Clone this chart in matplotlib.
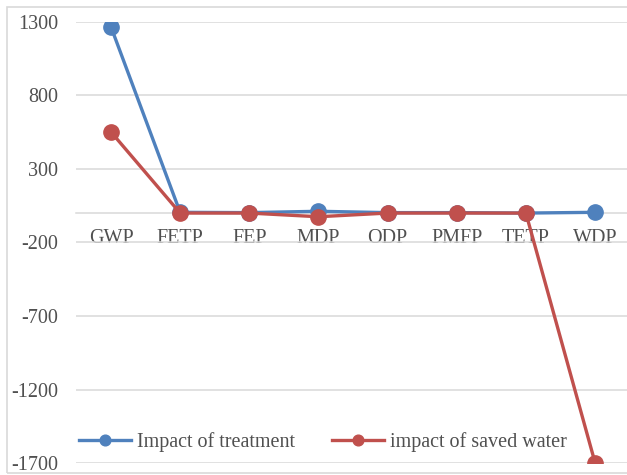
import matplotlib.pyplot as plt
from matplotlib.patches import Rectangle

categories = ['GWP', 'FETP', 'FEP', 'MDP', 'ODP', 'PMFP', 'TETP', 'WDP']
treatment = [1265, 5, 3, 12, 3, 3, 0, 5]
saved_water = [551, 0, 0, -25, 0, 0, 0, -1695]
y_ticks = [1300, 800, 300, -200, -700, -1200, -1700]

plt.rcParams['font.family'] = ['Liberation Serif', 'DejaVu Serif']
plt.rcParams['axes.unicode_minus'] = False

fig = plt.figure(figsize=(6.27, 4.75), dpi=100)
ax = fig.add_axes([76.4 / 627, 1 - 463.3 / 475, (629.6 - 76.4) / 627, (463.3 - 21.7) / 475])

# frame around the whole chart
fig.patches.append(Rectangle((7 / 627, 2 / 475), 1.0, 466 / 475, transform=fig.transFigure,
                             fill=False, edgecolor='#D9D9D9', linewidth=1.2))

x = range(len(categories))
ax.plot(x, treatment, '-o', color='#4F81BD', linewidth=2.4, markersize=11,
        label='Impact of treatment', zorder=3)
ax.plot(x, saved_water, '-o', color='#C0504D', linewidth=2.4, markersize=11,
        label='impact of saved water', zorder=4)

ax.set_xlim(-0.5, len(categories) - 0.5)
ax.set_ylim(-1700, 1300)
ax.set_yticks(y_ticks)
ax.set_xticks(list(x))
ax.set_xticklabels(categories)
ax.grid(axis='y', color='#D9D9D9', linewidth=1.1)
ax.set_axisbelow(True)

for s in ['top', 'right', 'left']:
    ax.spines[s].set_visible(False)
ax.spines['bottom'].set_position(('data', 0))
ax.spines['bottom'].set_color('#D9D9D9')
ax.spines['bottom'].set_linewidth(1.1)

ax.tick_params(axis='y', length=0, pad=13, labelsize=14.5, labelcolor='#505050')
ax.tick_params(axis='x', length=0, pad=11.5, labelsize=14.5, labelcolor='#505050')

leg = ax.legend(loc='lower left', bbox_to_anchor=(-0.028, -0.016), ncol=2, frameon=False,
                fontsize=14.5, handlelength=2.6, columnspacing=1.8, handletextpad=0.3,
                markerscale=0.7)
for t in leg.get_texts():
    t.set_color('#505050')

fig.savefig('out.png', dpi=100)
